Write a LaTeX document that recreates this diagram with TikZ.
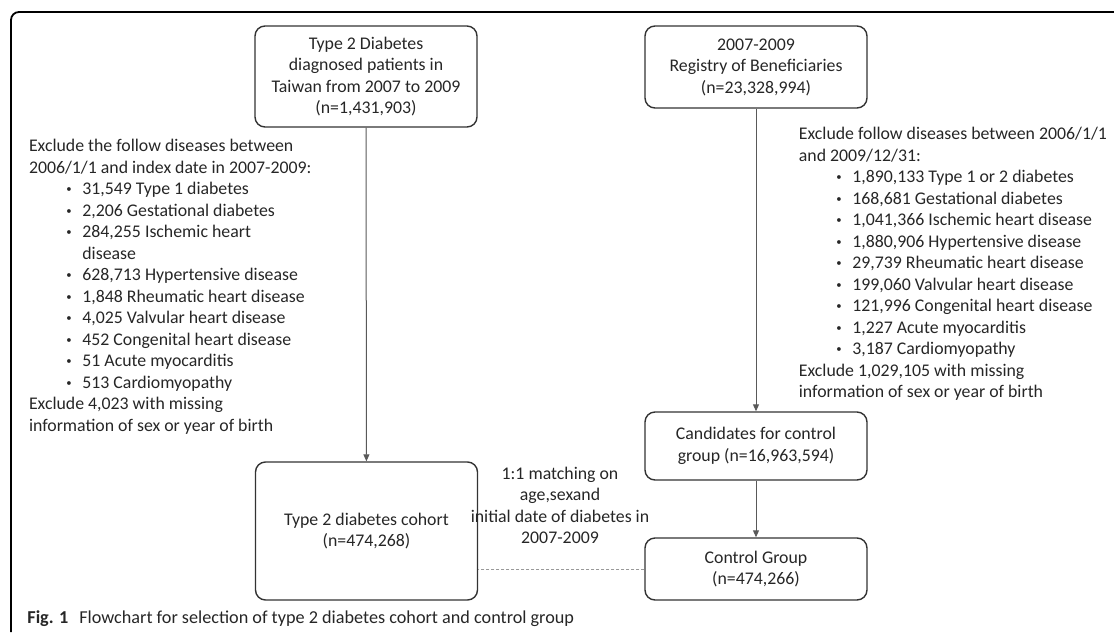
\documentclass[tikz,border=0pt]{standalone}
\usepackage{fontspec}
\setmainfont{Carlito}
\usetikzlibrary{arrows.meta}
\tikzset{
  flowbox/.style={draw=black!80, line width=0.7pt, rounded corners=5pt,
    minimum width=111pt, align=center, inner sep=2pt},
  exclnote/.style={align=left, inner sep=0pt, anchor=north west},
  flowarrow/.style={draw=black!65, line width=0.5pt,
    -{Triangle[length=3.5pt,width=3pt]}},
}
\newcommand{\itm}[1]{\hspace*{18.7pt}\makebox[8pt][l]{\raisebox{0.12em}{\scalebox{0.6}{\textbullet}}}#1}
\begin{document}
\begin{tikzpicture}[x=0.5pt,y=-0.5pt, font=\fontsize{8.9}{10.75}\selectfont, text=black!85]
    \useasboundingbox (0,0) rectangle (1114,632);
    % frame
    \draw[line width=0.9pt, rounded corners=4pt] (11,632) -- (11,12) -- (1114,12);

    \node[flowbox, minimum height=50.5pt] (diab) at (366,76.5)
        {Type 2 Diabetes\\diagnosed patients in\\Taiwan from 2007 to 2009\\(n=1,431,903)};
    \node[flowbox, minimum height=41pt] (regis) at (756,67)
        {2007-2009\\Registry of Beneficiaries\\(n=23,328,994)};
    \node[flowbox, minimum height=69pt] (cohort) at (366.5,531)
        {Type 2 diabetes cohort\\(n=474,268)};
    \node[flowbox, minimum height=34pt] (cand) at (756,446)
        {Candidates for control\\group (n=16,963,594)};
    \node[flowbox, minimum height=31pt] (ctrl) at (756,569)
        {Control Group\\(n=474,266)};

    \node[exclnote] (exclDiab) at (28.6,139)
        {Exclude the follow diseases between\\
         2006/1/1 and index date in 2007-2009:\\
         \itm{31,549 Type 1 diabetes}\\
         \itm{2,206 Gestational diabetes}\\
         \itm{284,255 Ischemic heart}\\
         \hspace*{26.7pt}disease\\
         \itm{628,713 Hypertensive disease}\\
         \itm{1,848 Rheumatic heart disease}\\
         \itm{4,025 Valvular heart disease}\\
         \itm{452 Congenital heart disease}\\
         \itm{51 Acute myocarditis}\\
         \itm{513 Cardiomyopathy}\\
         Exclude 4,023 with missing\\
         information of sex or year of birth};
    \node[exclnote] (exclRegis) at (798.5,127)
        {Exclude follow diseases between 2006/1/1\\
         and 2009/12/31:\\
         \itm{1,890,133 Type 1 or 2 diabetes}\\
         \itm{168,681 Gestational diabetes}\\
         \itm{1,041,366 Ischemic heart disease}\\
         \itm{1,880,906 Hypertensive disease}\\
         \itm{29,739 Rheumatic heart disease}\\
         \itm{199,060 Valvular heart disease}\\
         \itm{121,996 Congenital heart disease}\\
         \itm{1,227 Acute myocarditis}\\
         \itm{3,187 Cardiomyopathy}\\
         Exclude 1,029,105 with missing\\
         information of sex or year of birth};

    \node[align=center, inner sep=0pt] (match) at (560,505.5)
        {1:1 matching on\\age,sexand\\initial date of diabetes in\\2007-2009};

    \draw[flowarrow] (diab) -- (cohort);
    \draw[flowarrow] (regis) -- (cand);
    \draw[flowarrow] (cand) -- (ctrl);
    \draw[black!40, line width=0.5pt, dash pattern=on 1.5pt off 1pt]
        (ctrl.west) -- (ctrl.west -| cohort.east);

    \node[anchor=base west, inner sep=0pt, font=\fontsize{9.1}{11}\selectfont] (capt) at (27,623)
        {\textbf{Fig. 1}\hspace{0.6em}Flowchart for selection of type 2 diabetes cohort and control group};
\end{tikzpicture}
\end{document}
